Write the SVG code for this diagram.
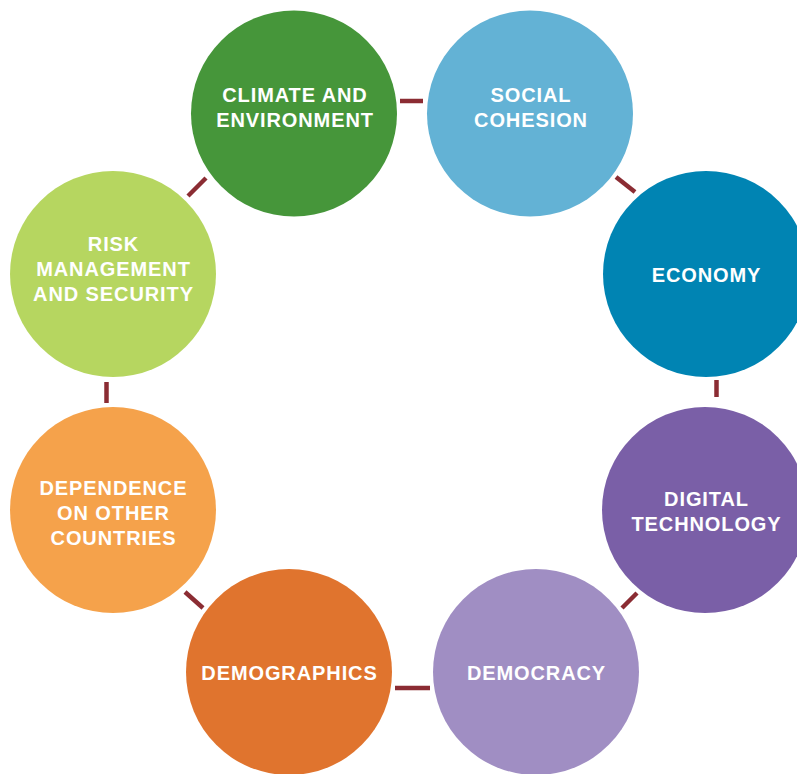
<svg xmlns="http://www.w3.org/2000/svg" width="797" height="774" viewBox="0 0 797 774">
<style>
.lbl{font-family:"Liberation Sans",Arial,sans-serif;font-weight:bold;font-size:20px;letter-spacing:0.9px;fill:#ffffff;text-anchor:middle}
.con{stroke:#8b2c33;stroke-width:4.5;fill:none}
</style>
<rect width="797" height="774" fill="#ffffff"/>
<g id="connectors">
<line class="con" x1="400" y1="101" x2="423" y2="101"/>
<line class="con" x1="616" y1="177" x2="635" y2="192"/>
<line class="con" x1="716.5" y1="380" x2="716.5" y2="397"/>
<line class="con" x1="637" y1="593" x2="622" y2="608"/>
<line class="con" x1="395" y1="688" x2="430" y2="688"/>
<line class="con" x1="185" y1="592" x2="203" y2="608"/>
<line class="con" x1="106.5" y1="382" x2="106.5" y2="403"/>
<line class="con" x1="206" y1="178" x2="188" y2="196"/>
</g>
<g id="climate">
<circle cx="294" cy="113.5" r="103" fill="#46963a"/>
<text class="lbl" x="295" y="101.5">CLIMATE AND</text>
<text class="lbl" x="295" y="126.5">ENVIRONMENT</text>
</g>
<g id="social">
<circle cx="530" cy="113.5" r="103" fill="#63b2d5"/>
<text class="lbl" x="531" y="101.5">SOCIAL</text>
<text class="lbl" x="531" y="126.5">COHESION</text>
</g>
<g id="economy">
<circle cx="706" cy="274" r="103" fill="#0084b3"/>
<text class="lbl" x="706.5" y="281.5">ECONOMY</text>
</g>
<g id="digital">
<circle cx="705" cy="510" r="103" fill="#7a5fa7"/>
<text class="lbl" x="706.5" y="505.5">DIGITAL</text>
<text class="lbl" x="706.5" y="530.5">TECHNOLOGY</text>
</g>
<g id="democracy">
<circle cx="536" cy="672" r="103" fill="#a08ec3"/>
<text class="lbl" x="536.5" y="679.5">DEMOCRACY</text>
</g>
<g id="demographics">
<circle cx="289" cy="672" r="103" fill="#e0742e"/>
<text class="lbl" x="289.5" y="679.5">DEMOGRAPHICS</text>
</g>
<g id="dependence">
<circle cx="113" cy="510" r="103" fill="#f5a24b"/>
<text class="lbl" x="113.5" y="494.5">DEPENDENCE</text>
<text class="lbl" x="113.5" y="519.5">ON OTHER</text>
<text class="lbl" x="113.5" y="544.5">COUNTRIES</text>
</g>
<g id="risk">
<circle cx="113" cy="274" r="103" fill="#b6d660"/>
<text class="lbl" x="113.5" y="250.5">RISK</text>
<text class="lbl" x="113.5" y="275.5">MANAGEMENT</text>
<text class="lbl" x="113.5" y="300.5">AND SECURITY</text>
</g>
</svg>
